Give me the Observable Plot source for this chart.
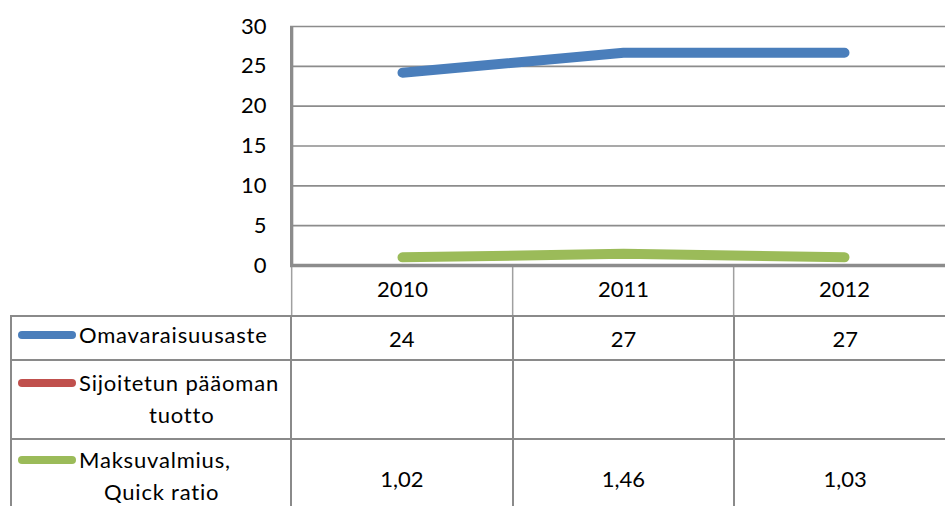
<!DOCTYPE html>
<html>
<head>
<meta charset="utf-8">
<script src="https://cdn.jsdelivr.net/npm/d3@7"></script>
<script src="https://cdn.jsdelivr.net/npm/@observablehq/plot@0.6"></script>
<style>
html, body { margin: 0; padding: 0; background: #fff; width: 945px; height: 506px; overflow: hidden; }
#wrap { position: relative; width: 945px; height: 506px; overflow: hidden; font-family: Lato, "Open Sans", sans-serif; color: #000; }
#chart svg { display: block; }
table { position: absolute; left: 10px; top: 315px; border-collapse: collapse; table-layout: fixed; }
td { border: 2px solid #8a8a8a; padding: 0; font-size: 22px; text-align: center; vertical-align: middle; }
td.lab { text-align: left; }
.ln { position: relative; line-height: 32px; white-space: nowrap; letter-spacing: 0.8px; }
.key { position: absolute; left: 6px; top: 12px; width: 58px; height: 8px; border-radius: 4px; }
</style>
</head>
<body>
<div id="wrap">
  <div id="chart"></div>
</div>
<script>
// ---- data ----
const years = ["2010", "2011", "2012"];
const omavaraisuusaste = [24.2, 26.7, 26.7];
const sijoitetunPaaomanTuotto = [null, null, null];
const quickRatio = [1.02, 1.46, 1.03];
const seriesNames = ["Omavaraisuusaste", "Sijoitetun pääoman tuotto", "Maksuvalmius, Quick ratio"];
const seriesLines = [["Omavaraisuusaste"], ["Sijoitetun pääoman", "tuotto"], ["Maksuvalmius,", "Quick ratio"]];
const seriesColors = ["#4a7ebb", "#c0504d", "#9bbb59"];
const tableLabels = [
  omavaraisuusaste.map(v => v == null ? "" : String(Math.round(v))),
  sijoitetunPaaomanTuotto.map(v => v == null ? "" : String(v)),
  quickRatio.map(v => v == null ? "" : v.toFixed(2).replace(".", ","))
];
const yTicks = [0, 5, 10, 15, 20, 25, 30];

const seriesValues = [omavaraisuusaste, sijoitetunPaaomanTuotto, quickRatio];
const rows = [];
seriesNames.forEach((s, i) => years.forEach((y, j) => {
  if (seriesValues[i][j] != null) rows.push({series: s, year: y, value: seriesValues[i][j]});
}));

// ---- layout ----
const W = 945, mL = 290, mT = 26, mB = 51, H = 316;
const xRange = [290, 955];
const step = (xRange[1] - xRange[0]) / years.length;
const frameH = H - mT - mB;

const chart = Plot.plot({
  width: W, height: H,
  marginTop: mT, marginBottom: mB, marginLeft: mL, marginRight: 0,
  x: {type: "point", domain: years, range: xRange, padding: 0.5},
  y: {domain: [0, 30]},
  color: {domain: seriesNames, range: seriesColors},
  style: {fontFamily: "Lato, 'Open Sans', sans-serif", fontSize: "22px", color: "#000", background: "transparent"},
  marks: [
    Plot.gridY(yTicks, {stroke: "#8c8c8c", strokeOpacity: 1, strokeWidth: 1.7}),
    Plot.axisY(yTicks, {tickSize: 0, tickPadding: 24, label: null, fontSize: 22}),
    Plot.axisX({tickSize: 0, tickPadding: 16, label: null, fontSize: 22}),
    Plot.ruleX(years, {dx: -step / 2, insetTop: frameH, insetBottom: -mB, stroke: "#a0a0a0", strokeWidth: 1.5}),
    Plot.ruleY([0], {stroke: "#8c8c8c", strokeWidth: 3.3}),
    Plot.ruleX([years[0]], {dx: -step / 2, stroke: "#8c8c8c", strokeWidth: 3.3}),
    Plot.line(rows, {x: "year", y: "value", z: "series", stroke: "series", strokeWidth: 10, strokeLinecap: "round", strokeLinejoin: "round"})
  ]
});
document.getElementById("chart").appendChild(chart);

// ---- data table ----
const rowHeights = [44, 79, 78];
const secondIndent = [0, 137, 92];
const labelPadBottom = [6, 2, 4];
const colWidths = [280, step, step, step];
const table = document.createElement("table");
table.style.width = d3.sum(colWidths) + "px";
const cg = document.createElement("colgroup");
colWidths.forEach(w => { const c = document.createElement("col"); c.style.width = w + "px"; cg.appendChild(c); });
table.appendChild(cg);
seriesNames.forEach((s, i) => {
  const tr = document.createElement("tr");
  tr.style.height = rowHeights[i] + "px";
  const lab = document.createElement("td");
  lab.className = "lab";
  lab.style.paddingBottom = labelPadBottom[i] + "px";
  seriesLines[i].forEach((t, k) => {
    const d = document.createElement("div");
    d.className = "ln";
    d.style.paddingLeft = (k === 0 ? 67 : secondIndent[i]) + "px";
    if (k === 0) {
      const key = document.createElement("span");
      key.className = "key";
      key.style.background = seriesColors[i];
      d.appendChild(key);
    }
    d.appendChild(document.createTextNode(t));
    lab.appendChild(d);
  });
  tr.appendChild(lab);
  tableLabels[i].forEach(v => {
    const td = document.createElement("td");
    td.textContent = v;
    tr.appendChild(td);
  });
  table.appendChild(tr);
});
document.getElementById("wrap").appendChild(table);
</script>
</body>
</html>
